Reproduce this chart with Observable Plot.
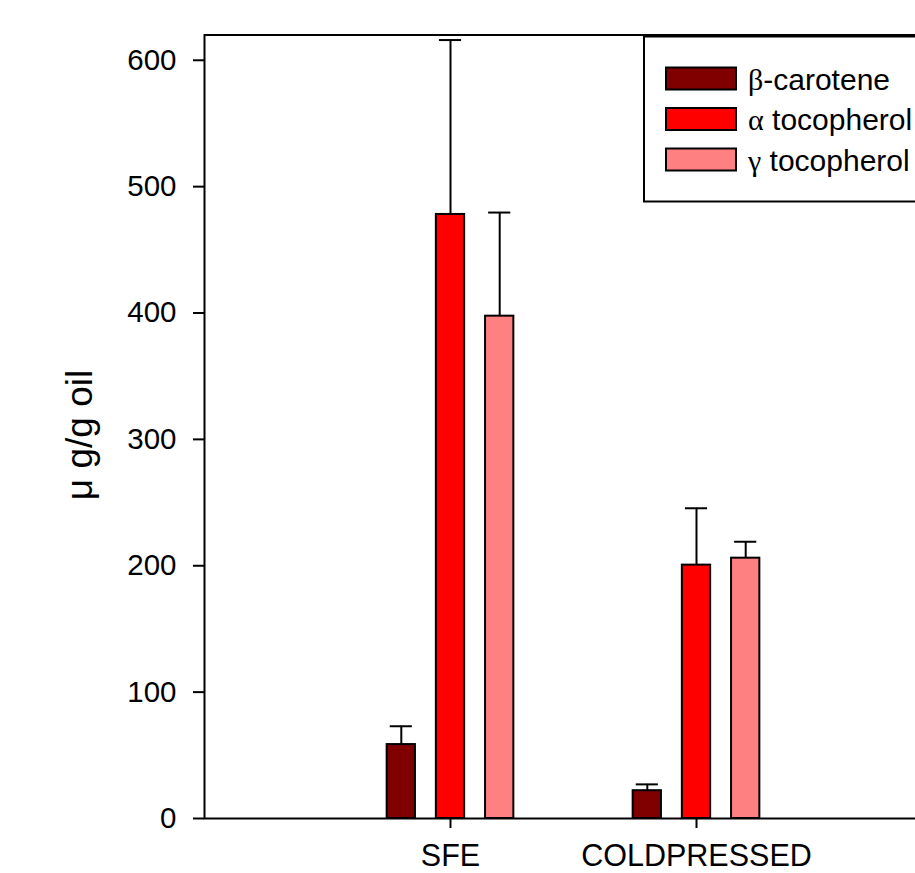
<!DOCTYPE html>
<html><head><meta charset="utf-8">
<script src="https://cdn.jsdelivr.net/npm/d3@7"></script>
<script src="https://cdn.jsdelivr.net/npm/@observablehq/plot@0.6"></script>
<style>html,body{margin:0;padding:0;background:#fff;overflow:hidden}#chart{position:relative;width:915px;height:873px}</style>
</head><body><div id="chart"></div>
<script>
const groups = ["SFE", "COLDPRESSED"];
const seriesNames = ["β-carotene", "α tocopherol", "γ tocopherol"];
const seriesGreek = ["β", "α", "γ"];
const seriesRest = ["-carotene", " tocopherol", " tocopherol"];
const seriesColors = ["#800000", "#ff0000", "#ff8080"];
const betaCarotene = [58.5, 22];
const betaCaroteneErr = [14.5, 5];
const alphaTocopherol = [478, 200.5];
const alphaTocopherolErr = [138, 45];
const gammaTocopherol = [397.5, 206];
const gammaTocopherolErr = [82, 13];
const yTicks = [0, 100, 200, 300, 400, 500, 600];
const yLabel = "μ g/g oil";

const values = [betaCarotene, alphaTocopherol, gammaTocopherol];
const errors = [betaCaroteneErr, alphaTocopherolErr, gammaTocopherolErr];
const seriesOffset = 0.2, barHalf = 0.0575, capHalf = 0.045;
const rows = [];
groups.forEach((g, gi) => seriesNames.forEach((s, si) => rows.push({
  group: g, series: s, pos: gi + 1 + (si - 1) * seriesOffset,
  value: values[si][gi], top: values[si][gi] + errors[si][gi]
})));

const W = 915, H = 873;
const plot = Plot.plot({
  width: W, height: H,
  marginLeft: 204, marginRight: -27, marginTop: 34.5, marginBottom: 55,
  style: {fontFamily: "'Liberation Sans', Arial, sans-serif", fontSize: "29.5px", color: "black", background: "white", overflow: "hidden"},
  x: {domain: [0, 3], axis: null},
  y: {domain: [0, 620], axis: null},
  color: {domain: seriesNames, range: seriesColors},
  marks: [
    Plot.ruleX(rows, {x: "pos", y1: "value", y2: "top", stroke: "black", strokeWidth: 2}),
    Plot.ruleY(rows, {y: "top", x1: d => d.pos - capHalf, x2: d => d.pos + capHalf, stroke: "black", strokeWidth: 2}),
    Plot.rect(rows, {x1: d => d.pos - barHalf, x2: d => d.pos + barHalf, y1: 0, y2: "value", fill: "series", stroke: "black", strokeWidth: 2}),
    Plot.axisY({ticks: yTicks, tickSize: 11, tickPadding: 17, label: null, strokeWidth: 2}),
    Plot.axisX({ticks: [1, 2], tickFormat: i => groups[i - 1], tickSize: 10, tickPadding: 16, label: null, strokeWidth: 2, fontSize: 30.5}),
    Plot.frame({stroke: "black", strokeWidth: 2})
  ]
});
document.getElementById("chart").appendChild(plot);

const svg = d3.select(plot);
// y-axis label
svg.append("text")
  .attr("transform", "translate(92,435) rotate(-90)")
  .attr("text-anchor", "middle")
  .attr("font-size", 37)
  .attr("fill", "black")
  .text(yLabel);

// legend
const lg = svg.append("g");
lg.append("rect").attr("x", 644).attr("y", 36.5).attr("width", 320).attr("height", 165)
  .attr("fill", "white").attr("stroke", "black").attr("stroke-width", 2);
seriesNames.forEach((s, i) => {
  const y0 = 67.5 + i * 40.5;
  lg.append("rect").attr("x", 666).attr("y", y0).attr("width", 70).attr("height", 22)
    .attr("fill", seriesColors[i]).attr("stroke", "black").attr("stroke-width", 2);
  const t = lg.append("text").attr("x", 748).attr("y", y0 + 22).attr("font-size", 30)
    .attr("text-anchor", "start").attr("fill", "black");
  t.append("tspan").attr("font-family", "'Liberation Serif', 'Times New Roman', serif").text(seriesGreek[i]);
  t.append("tspan").text(seriesRest[i]);
});
</script>
</body></html>
